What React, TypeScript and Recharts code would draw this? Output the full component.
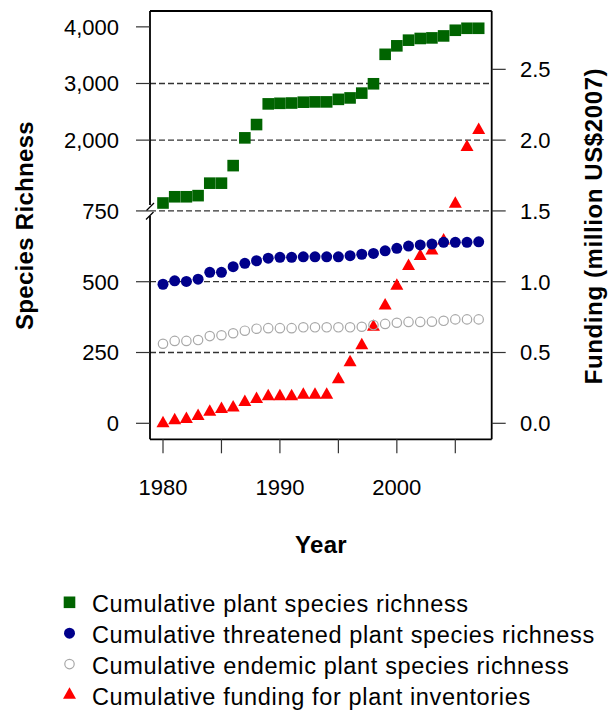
import { ScatterChart, Scatter, XAxis, YAxis, ReferenceLine, ReferenceDot } from "recharts"

const years = [
  1980, 1981, 1982, 1983, 1984, 1985, 1986, 1987, 1988, 1989, 1990, 1991, 1992, 1993,
  1994, 1995, 1996, 1997, 1998, 1999, 2000, 2001, 2002, 2003, 2004, 2005, 2006, 2007,
]
const plantRichness = [
  890, 1000, 1000, 1020, 1240, 1240, 1550, 2040, 2275, 2640, 2650, 2655, 2670, 2675,
  2675, 2720, 2745, 2830, 2995, 3515, 3665, 3765, 3795, 3805, 3840, 3940, 3975, 3975,
]
const threatenedRichness = [
  491, 503, 501, 509, 533, 533, 553, 565, 574, 583, 586, 586, 588, 588,
  588, 588, 592, 597, 600, 609, 618, 626, 630, 633, 639, 639, 639, 641,
]
const endemicRichness = [
  281, 291, 291, 294, 308, 311, 318, 327, 334, 336, 336, 336, 339, 339,
  339, 339, 339, 341, 347, 351, 355, 358, 358, 359, 362, 367, 367, 367,
]
const fundingMillions = [
  0.0, 0.02, 0.03, 0.05, 0.08, 0.1, 0.11, 0.15, 0.17, 0.19, 0.19, 0.19, 0.2, 0.2,
  0.2, 0.31, 0.43, 0.55, 0.68, 0.83, 0.97, 1.11, 1.18, 1.22, 1.29, 1.55, 1.95, 2.07,
]

const speciesTicks = [0, 250, 500, 750, 2000, 3000, 4000]
const speciesGrid = [250, 500, 750, 2000, 3000]
const fundingTicks = [0, 0.5, 1, 1.5, 2, 2.5]
const yearTicks = [1980, 1985, 1990, 1995, 2000, 2005]
const yearLabels = [1980, 1990, 2000]

const legendItems = [
  "Cumulative plant species richness",
  "Cumulative threatened plant species richness",
  "Cumulative endemic plant species richness",
  "Cumulative funding for plant inventories",
]

// species axis is broken at 750: below it 500 species per funding unit, above it 2500
const BREAK = 750
const toAxis = (s: number) => (s <= BREAK ? s / 500 : BREAK / 500 + (s - BREAK) / 2500)
const fromAxis = (v: number) => (v <= BREAK / 500 ? v * 500 : BREAK + (v - BREAK / 500) * 2500)

const X_DOMAIN: [number, number] = [1978.888, 2008.113]
const Y_DOMAIN: [number, number] = [-0.113, 2.912]

const FONT = '"Liberation Sans", Arial, Helvetica, sans-serif'

const points = (vals: number[], f: (v: number) => number = (v) => v) =>
  years.map((year, i) => ({ year, y: f(vals[i]) }))

const Square = ({ cx, cy }: any) => (
  <rect x={cx - 5.8} y={cy - 5.8} width={11.6} height={11.6} fill="#006400" />
)
const Dot = ({ cx, cy }: any) => <circle cx={cx} cy={cy} r={5.5} fill="#00008B" />
const Ring = ({ cx, cy }: any) => (
  <circle cx={cx} cy={cy} r={4.7} fill="none" stroke="#A8A8A8" strokeWidth={1.2} />
)
const Triangle = ({ cx, cy }: any) => {
  const h = 11.5
  const w = 13
  return (
    <polygon
      points={`${cx},${cy - (2 * h) / 3} ${cx + w / 2},${cy + h / 3} ${cx - w / 2},${cy + h / 3}`}
      fill="#FF0000"
    />
  )
}

// the "//" drawn across the left border where the axis breaks
const BreakMark = ({ cx, cy }: any) => (
  <g stroke="#000" strokeWidth={1.3}>
    <line x1={cx - 3.5} y1={cy - 0.5} x2={cx + 4} y2={cy - 8} />
    <line x1={cx - 4} y1={cy + 8.5} x2={cx + 3.5} y2={cy + 1} />
  </g>
)

const markers = [Square, Dot, Ring, Triangle]

const box = { stroke: "#000", strokeWidth: 1.8, ifOverflow: "visible" as const, yAxisId: "left" }

export default function App() {
  return (
    <div style={{ position: "absolute", left: 0, top: 0, width: 609, height: 713, fontFamily: FONT }}>
      <ScatterChart width={609} height={713} margin={{ top: 11, right: 0, bottom: 183.7, left: 0 }}>
        <XAxis
          dataKey="year"
          type="number"
          domain={X_DOMAIN}
          ticks={yearTicks}
          interval={0}
          height={90}
          axisLine={false}
          tickSize={14}
          tickMargin={26}
          tickLine={{ stroke: "#333", strokeWidth: 1.2 }}
          tick={{ fill: "#000", fontSize: 22 }}
          tickFormatter={(v) => (yearLabels.includes(v) ? String(v) : "")}
          label={{
            content: () => (
              <text x={321} y={553.3} textAnchor="middle" fontSize={24} fontWeight="bold" letterSpacing={0.3}>
                Year
              </text>
            ),
          }}
        />
        <YAxis
          yAxisId="left"
          dataKey="y"
          type="number"
          domain={Y_DOMAIN}
          ticks={speciesTicks.map(toAxis)}
          interval={0}
          width={150}
          axisLine={false}
          tickSize={14}
          tickMargin={17}
          tickLine={{ stroke: "#333", strokeWidth: 1.2 }}
          tick={{ fill: "#000", fontSize: 22 }}
          tickFormatter={(v) => Math.round(fromAxis(v)).toLocaleString("en-US")}
          label={{
            content: () => (
              <text
                x={33}
                y={225.5}
                transform="rotate(-90 33 225.5)"
                textAnchor="middle"
                fontSize={24}
                fontWeight="bold"
                letterSpacing={0.3}
              >
                Species Richness
              </text>
            ),
          }}
        />
        <YAxis
          yAxisId="right"
          orientation="right"
          dataKey="y"
          type="number"
          domain={Y_DOMAIN}
          ticks={fundingTicks}
          interval={0}
          width={117.3}
          axisLine={false}
          tickSize={14}
          tickMargin={14.3}
          tickLine={{ stroke: "#333", strokeWidth: 1.2 }}
          tick={{ fill: "#000", fontSize: 22 }}
          tickFormatter={(v) => v.toFixed(1)}
          label={{
            content: () => (
              <text
                x={602}
                y={226}
                transform="rotate(-90 602 226)"
                textAnchor="middle"
                fontSize={24}
                fontWeight="bold"
                letterSpacing={0.6}
              >
                Funding (million US$2007)
              </text>
            ),
          }}
        />

        {speciesGrid.map((s) => (
          <ReferenceLine
            key={s}
            yAxisId="left"
            y={toAxis(s)}
            stroke="#333"
            strokeWidth={1.3}
            strokeDasharray="6 3"
          />
        ))}

        <ReferenceLine {...box} y={Y_DOMAIN[1]} />
        <ReferenceLine {...box} y={Y_DOMAIN[0]} />
        <ReferenceLine {...box} x={X_DOMAIN[1]} />
        <ReferenceLine
          {...box}
          segment={[
            { x: X_DOMAIN[0], y: Y_DOMAIN[0] },
            { x: X_DOMAIN[0], y: 1.465 },
          ]}
        />
        <ReferenceLine
          {...box}
          segment={[
            { x: X_DOMAIN[0], y: 1.542 },
            { x: X_DOMAIN[0], y: Y_DOMAIN[1] },
          ]}
        />
        <ReferenceDot yAxisId="left" x={X_DOMAIN[0]} y={toAxis(BREAK)} ifOverflow="visible" shape={BreakMark} />

        <Scatter yAxisId="right" data={points(fundingMillions)} shape={Triangle} isAnimationActive={false} />
        <Scatter yAxisId="left" data={points(plantRichness, toAxis)} shape={Square} isAnimationActive={false} />
        <Scatter yAxisId="left" data={points(threatenedRichness, toAxis)} shape={Dot} isAnimationActive={false} />
        <Scatter yAxisId="left" data={points(endemicRichness, toAxis)} shape={Ring} isAnimationActive={false} />
      </ScatterChart>

      <svg
        width={609}
        height={713}
        style={{ position: "absolute", left: 0, top: 0, pointerEvents: "none" }}
      >
        {legendItems.map((text, i) => {
          const base = 612.3 + i * 30.9
          const Marker = markers[i]
          return (
            <g key={text}>
              <Marker cx={69.5} cy={base - 10} />
              <text x={92} y={base} fontSize={23.5} letterSpacing={0.65} fill="#000">
                {text}
              </text>
            </g>
          )
        })}
      </svg>
    </div>
  )
}
